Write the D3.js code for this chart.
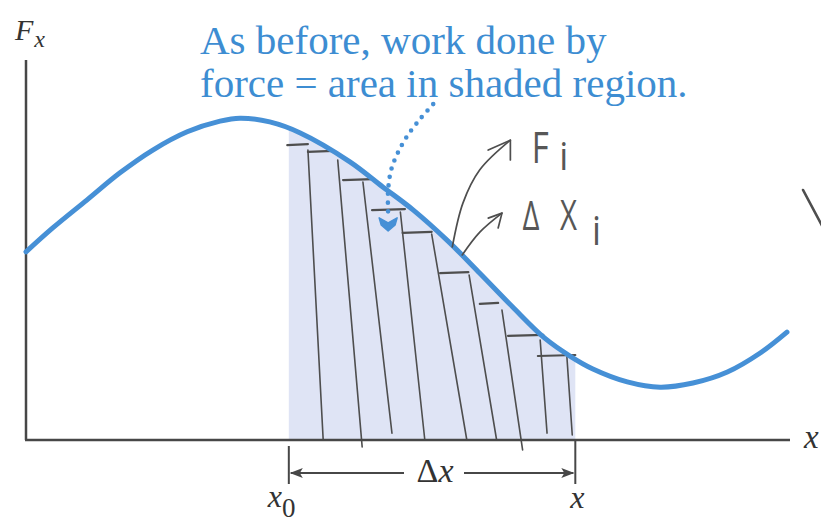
<!DOCTYPE html>
<html>
<head>
<meta charset="utf-8">
<script src="https://cdn.jsdelivr.net/npm/d3@7"></script>
<style>
  html, body { margin: 0; padding: 0; background: #fff; }
  svg { display: block; }
</style>
</head>
<body>
<svg id="chart" width="821" height="526"></svg>
<script>
// ---- Force curve F_x(x) ----
const positions = [0, 0.35, 0.80, 1.23, 1.66, 2.11, 2.54, 2.80, 3.19, 3.59, 4.24, 4.67, 5.07, 5.51, 5.94, 6.37, 6.79, 7.12, 7.42, 7.87, 8.30, 8.73, 9.18, 9.61, 9.96];
const forces    = [4.95, 5.58, 6.32, 7.03, 7.63, 8.11, 8.39, 8.47, 8.37, 8.08, 7.32, 6.66, 6.05, 5.26, 4.39, 3.50, 2.68, 2.21, 1.87, 1.53, 1.39, 1.50, 1.79, 2.29, 2.84];

// Interval of integration
const xStart = 3.44;
const xEnd = 7.19;

// Pencilled strips: top step of each strip (left, right, height)
const stepLeft   = [3.42, 3.69, 4.15, 4.53, 4.93, 5.42, 5.94, 6.31, 6.70];
const stepRight  = [3.69, 4.02, 4.53, 4.96, 5.31, 5.79, 6.18, 6.77, 7.19];
const stepHeight = [7.76, 7.58, 6.84, 6.05, 5.45, 4.39, 3.58, 2.74, 2.21];

// Pencilled strip dividers (top x, top F, bottom x, bottom F)
const dividerTopX    = [3.69, 4.08, 4.41, 4.90, 5.31, 5.80, 6.23, 6.73, 7.08];
const dividerTopF    = [7.63, 7.37, 6.79, 6.00, 5.42, 4.34, 3.42, 2.63, 2.18];
const dividerBottomX = [3.89, 4.40, 4.79, 5.22, 5.77, 6.16, 6.50, 6.82, 7.15];
const dividerBottomF = [0.00, -0.18, 0.18, 0.00, 0.00, 0.00, -0.26, 0.18, 0.13];

// Blue dotted pointer from the caption into the shaded region
const pointerX = [5.33, 5.16, 4.99, 4.86, 4.78, 4.74, 4.74];
const pointerF = [8.84, 8.45, 8.00, 7.53, 7.11, 6.58, 5.97];
const pointerTip = [4.74, 5.53];

// Pencilled arrows towards the handwritten notes
const noteArrowF  = [[5.58, 5.08], [5.72, 6.24], [5.94, 7.11], [6.34, 7.89]];
const noteArrowDx = [[5.71, 4.87], [5.94, 5.47], [6.23, 5.97]];
const noteHeadF   = [[6.05, 7.63], [6.34, 7.89], [6.34, 7.37]];
const noteHeadDx  = [[6.05, 5.84], [6.23, 5.97], [6.18, 5.58]];
const pencilMark  = [[10.17, 6.58], [10.52, 5.26]];

// Text
const captionLines = ["As before, work done by", "force = area in shaded region."];

// ---- Layout ----
const svg = d3.select("#chart");
const x = d3.scaleLinear().domain([0, 10]).range([26, 790]);
const y = d3.scaleLinear().domain([0, 10]).range([440, 60]);

const curvePts = positions.map((p, i) => [p, forces[i]]);
const lineGen = d3.line().x(d => x(d[0])).y(d => y(d[1])).curve(d3.curveCatmullRom.alpha(0.5));
const areaGen = d3.area().x(d => x(d[0])).y0(y(0)).y1(d => y(d[1])).curve(d3.curveCatmullRom.alpha(0.5));

const blue = "#4690d6";
const textBlue = "#3d8dd2";
const axisCol = "#474747";
const pencil = "#4e4e4e";
const serif = "'Liberation Serif', 'Times New Roman', serif";

// Shaded work region
svg.append("clipPath").attr("id", "work-clip")
  .append("rect")
  .attr("x", x(xStart)).attr("y", 0)
  .attr("width", x(xEnd) - x(xStart)).attr("height", y(0));

svg.append("path")
  .datum(curvePts)
  .attr("d", areaGen)
  .attr("clip-path", "url(#work-clip)")
  .attr("fill", "#dfe4f5");

// Pencilled strips
const pencilG = svg.append("g")
  .attr("stroke", pencil).attr("fill", "none")
  .attr("stroke-linecap", "round");

pencilG.selectAll("line.divider")
  .data(dividerTopX.map((d, i) => i))
  .join("line")
  .attr("class", "divider")
  .attr("x1", i => x(dividerTopX[i])).attr("y1", i => y(dividerTopF[i]))
  .attr("x2", i => x(dividerBottomX[i])).attr("y2", i => y(dividerBottomF[i]))
  .attr("stroke-width", 1.6);

pencilG.selectAll("line.step")
  .data(stepLeft.map((d, i) => i))
  .join("line")
  .attr("class", "step")
  .attr("x1", i => x(stepLeft[i])).attr("y1", i => y(stepHeight[i]))
  .attr("x2", i => x(stepRight[i])).attr("y2", i => y(stepHeight[i]) - 1)
  .attr("stroke-width", 2.2);

// Axes
svg.append("line")
  .attr("x1", x(0)).attr("y1", y(0)).attr("x2", x(0)).attr("y2", y(10))
  .attr("stroke", axisCol).attr("stroke-width", 2.5);
svg.append("line")
  .attr("x1", x(0) - 1).attr("y1", y(0)).attr("x2", x(10)).attr("y2", y(0))
  .attr("stroke", axisCol).attr("stroke-width", 2.5);

// Force curve
svg.append("path")
  .datum(curvePts)
  .attr("d", lineGen)
  .attr("fill", "none")
  .attr("stroke", blue)
  .attr("stroke-width", 5)
  .attr("stroke-linecap", "round");

// Dotted pointer
const pointerPts = pointerX.map((p, i) => [p, pointerF[i]]);
svg.append("path")
  .datum(pointerPts)
  .attr("d", d3.line().x(d => x(d[0])).y(d => y(d[1])).curve(d3.curveCatmullRom))
  .attr("fill", "none")
  .attr("stroke", blue)
  .attr("stroke-width", 4.6)
  .attr("stroke-linecap", "round")
  .attr("stroke-dasharray", "0 8.6");

const tx = x(pointerTip[0]), ty = y(pointerTip[1]);
svg.append("path")
  .attr("d", `M${tx - 9},${ty - 12} L${tx},${ty - 7} L${tx + 9},${ty - 12} L${tx + 7},${ty - 5} L${tx},${ty + 1} L${tx - 7},${ty - 5} Z`)
  .attr("fill", blue)
  .attr("stroke", blue).attr("stroke-width", 1.5).attr("stroke-linejoin", "round");

// Caption
const caption = svg.append("text")
  .attr("font-family", serif)
  .attr("font-size", 41)
  .attr("fill", textBlue);
captionLines.forEach((t, i) => {
  caption.append("tspan").attr("x", 200).attr("y", 54 + i * 43).text(t);
});

// Axis labels
const fLabel = svg.append("text")
  .attr("x", 15).attr("y", 40)
  .attr("font-family", serif).attr("font-style", "italic")
  .attr("font-size", 30).attr("fill", "#333");
fLabel.append("tspan").text("F");
fLabel.append("tspan").attr("font-size", 24).attr("dy", 7).attr("dx", 1).text("x");

svg.append("text")
  .attr("x", 804).attr("y", 448)
  .attr("font-family", serif).attr("font-style", "italic")
  .attr("font-size", 33).attr("fill", "#333")
  .text("x");

// Displacement interval Δx
const dimY = 473;
const dim = svg.append("g").attr("stroke", axisCol).attr("stroke-width", 2);
dim.append("line").attr("x1", x(xStart)).attr("x2", x(xStart)).attr("y1", 446).attr("y2", 484);
dim.append("line").attr("x1", x(xEnd)).attr("x2", x(xEnd)).attr("y1", 441).attr("y2", 484);
dim.append("line").attr("x1", x(xStart) + 2).attr("x2", 404).attr("y1", dimY).attr("y2", dimY);
dim.append("line").attr("x1", 464).attr("x2", x(xEnd) - 2).attr("y1", dimY).attr("y2", dimY);
svg.append("path")
  .attr("d", `M${x(xStart) + 1},${dimY} l13,-5 l-3,5 l3,5 Z`)
  .attr("fill", axisCol);
svg.append("path")
  .attr("d", `M${x(xEnd) - 1},${dimY} l-13,-5 l3,5 l-3,5 Z`)
  .attr("fill", axisCol);

const dLabel = svg.append("text")
  .attr("x", (x(xStart) + x(xEnd)) / 2 + 3).attr("y", 482)
  .attr("text-anchor", "middle")
  .attr("font-family", serif).attr("font-size", 34).attr("fill", "#333");
dLabel.append("tspan").text("Δ");
dLabel.append("tspan").attr("font-style", "italic").text("x");

const x0Label = svg.append("text")
  .attr("x", x(xStart) - 21).attr("y", 507)
  .attr("font-family", serif).attr("font-size", 32).attr("fill", "#333");
x0Label.append("tspan").attr("font-style", "italic").text("x");
x0Label.append("tspan").attr("dy", 10).attr("font-size", 27).text("0");

svg.append("text")
  .attr("x", x(xEnd) - 5).attr("y", 508)
  .attr("font-family", serif).attr("font-style", "italic")
  .attr("font-size", 32).attr("fill", "#333")
  .text("x");

// Handwritten notes
const hand = svg.append("g")
  .attr("stroke", pencil).attr("fill", "none")
  .attr("stroke-width", 1.7).attr("stroke-linecap", "round").attr("stroke-linejoin", "round");
const pen = d3.line().x(d => x(d[0])).y(d => y(d[1])).curve(d3.curveCatmullRom);
const straight = d3.line().x(d => x(d[0])).y(d => y(d[1]));
hand.append("path").attr("d", pen(noteArrowF));
hand.append("path").attr("d", pen(noteArrowDx));
hand.append("path").attr("d", straight(noteHeadF));
hand.append("path").attr("d", straight(noteHeadDx));
hand.append("path").attr("d", straight(pencilMark)).attr("stroke-width", 2.5);

const handFont = "'Open Sans', 'DejaVu Sans', sans-serif";
const note = (txt, px, pf, size, w) => svg.append("text")
  .attr("x", x(px)).attr("y", y(pf))
  .attr("font-family", handFont).attr("font-weight", 400)
  .attr("font-size", size).attr("fill", "#575757")
  .attr("textLength", w).attr("lengthAdjust", "spacingAndGlyphs")
  .text(txt);
note("F", 6.62, 7.29, 44, 17);
note("i", 6.98, 7.11, 38, 9);
note("Δ", 6.50, 5.53, 40, 17);
note("X", 6.99, 5.53, 42, 17);
note("i", 7.41, 5.13, 40, 9);
</script>
</body>
</html>
